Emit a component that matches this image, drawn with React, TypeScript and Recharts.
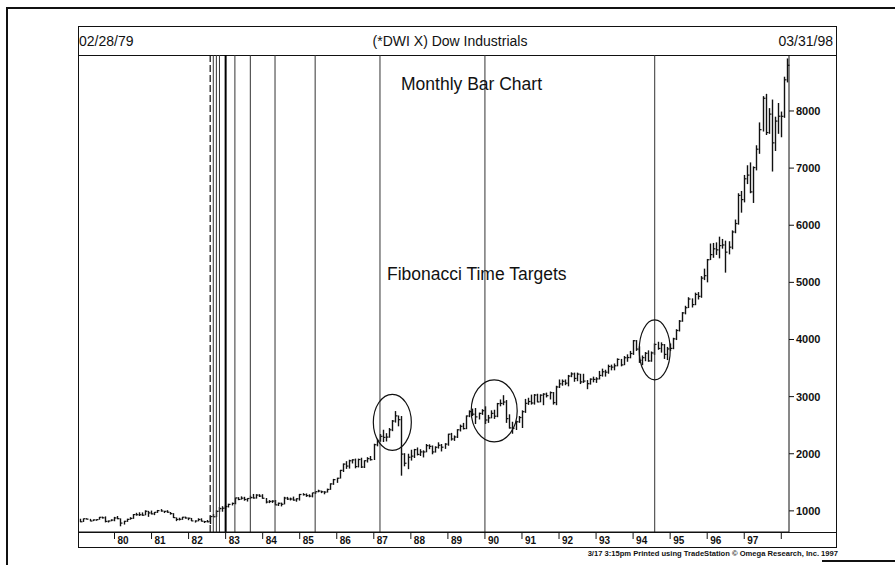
import React from "react";
import {
  ComposedChart,
  Bar,
  XAxis,
  YAxis,
  ReferenceLine,
  ReferenceDot,
} from "recharts";

// monthly DJIA bars, Feb 1979 .. Mar 1998
const firstYear = 1979;
const firstMonth = 2;

const highs = [
  862, 866, 872, 860, 850, 852, 894, 900, 903, 831, 852, // 79
  895, 910, 869, 826, 863, 889, 945, 966, 975, 973, 1010, 1000, // 80
  1005, 980, 1016, 1031, 1000, 1012, 980, 960, 885, 880, 895, 900, // 81
  882, 876, 834, 870, 870, 825, 840, 912, 944, 1012, 1070, 1082, // 82
  1097, 1125, 1145, 1232, 1240, 1254, 1246, 1222, 1266, 1296, 1292, 1292, // 83
  1292, 1225, 1188, 1186, 1190, 1145, 1145, 1246, 1245, 1232, 1250, 1220, // 84
  1297, 1310, 1305, 1290, 1318, 1340, 1370, 1355, 1345, 1390, 1482, 1560, // 85
  1580, 1718, 1830, 1870, 1895, 1905, 1915, 1915, 1930, 1885, 1940, 1960, // 86
  2175, 2260, 2345, 2420, 2360, 2450, 2590, 2747, 2670, 2660, 2010, 2000, // 87
  2070, 2085, 2110, 2080, 2060, 2170, 2165, 2145, 2130, 2200, 2170, 2185, // 88
  2350, 2365, 2320, 2430, 2510, 2540, 2670, 2760, 2790, 2800, 2720, 2780, // 89
  2830, 2680, 2760, 2770, 2890, 2950, 3025, 2940, 2690, 2560, 2580, 2660, // 90
  2760, 2960, 2980, 3035, 3045, 3050, 3040, 3060, 3070, 3090, 3080, 3190, // 91
  3300, 3300, 3300, 3380, 3425, 3420, 3420, 3400, 3400, 3290, 3320, 3350, // 92
  3340, 3450, 3490, 3470, 3560, 3560, 3580, 3670, 3660, 3710, 3740, 3800, // 93
  3990, 3990, 3880, 3720, 3780, 3810, 3790, 3930, 3960, 3950, 3920, 3870, // 94
  3930, 4030, 4180, 4340, 4480, 4590, 4740, 4720, 4820, 4830, 5110, 5240, // 95
  5410, 5680, 5690, 5700, 5800, 5760, 5730, 5720, 5910, 6100, 6560, 6600, // 96
  6880, 7050, 7100, 7030, 7400, 7800, 8260, 8300, 8050, 8200, 7900, 8140, // 97
  7990, 8600, 8920, // 98
];

const lows = [
  802, 806, 850, 818, 820, 826, 845, 866, 798, 796, 818,
  818, 854, 730, 760, 807, 845, 860, 916, 910, 913, 922, 895,
  938, 925, 964, 986, 962, 966, 935, 875, 820, 832, 843, 864,
  837, 820, 795, 817, 814, 788, 800, 770, 891, 891, 980, 985,
  1030, 1059, 1095, 1115, 1187, 1196, 1178, 1163, 1208, 1214, 1214, 1243,
  1212, 1131, 1135, 1139, 1098, 1086, 1078, 1113, 1191, 1182, 1178, 1160,
  1180, 1268, 1245, 1238, 1236, 1294, 1325, 1310, 1290, 1320, 1368, 1455,
  1490, 1565, 1680, 1735, 1740, 1830, 1745, 1760, 1750, 1750, 1846, 1880,
  1890, 2130, 2210, 2205, 2215, 2280, 2395, 2545, 2480, 1616, 1780, 1730,
  1880, 1925, 1970, 1960, 1935, 2025, 2080, 1990, 2020, 2090, 2040, 2085,
  2140, 2230, 2225, 2275, 2390, 2425, 2430, 2640, 2660, 2520, 2600, 2680,
  2520, 2540, 2620, 2610, 2640, 2830, 2850, 2540, 2440, 2350, 2415, 2540,
  2450, 2715, 2855, 2860, 2860, 2900, 2900, 2850, 2985, 2950, 2860, 2850,
  3150, 3190, 3200, 3180, 3340, 3260, 3270, 3220, 3240, 3130, 3210, 3250,
  3240, 3300, 3350, 3350, 3400, 3460, 3460, 3530, 3530, 3550, 3610, 3670,
  3730, 3800, 3590, 3550, 3620, 3610, 3610, 3730, 3820, 3770, 3660, 3640,
  3800, 3830, 3990, 4140, 4310, 4440, 4550, 4560, 4600, 4700, 4730, 5040,
  5000, 5390, 5430, 5480, 5420, 5590, 5170, 5490, 5580, 5860, 6010, 6220,
  6400, 6720, 6560, 6390, 6960, 7250, 7640, 7580, 7600, 6940, 7300, 7600,
  7540, 7880, 8500,
];

const closes = [
  808.8, 862.2, 854.9, 822.3, 842.0, 846.4, 887.6, 878.6, 815.7, 822.4, 838.7,
  875.9, 863.1, 785.8, 817.1, 850.9, 867.9, 935.3, 932.6, 932.4, 924.5, 993.3, 964.0,
  947.3, 974.6, 1003.9, 997.8, 991.8, 976.9, 952.3, 881.5, 850.0, 852.6, 889.0, 875.0,
  871.1, 824.4, 822.8, 848.4, 819.5, 811.9, 808.6, 901.3, 896.3, 991.7, 1039.3, 1046.5,
  1075.7, 1112.6, 1130.0, 1226.2, 1200.0, 1222.0, 1199.2, 1216.2, 1233.1, 1225.2, 1276.0, 1258.6,
  1220.6, 1154.6, 1164.9, 1170.8, 1104.9, 1132.4, 1115.3, 1224.4, 1206.7, 1207.4, 1188.9, 1211.6,
  1286.8, 1284.0, 1266.8, 1258.1, 1315.4, 1335.5, 1347.5, 1334.0, 1328.6, 1374.3, 1472.1, 1546.7,
  1571.0, 1709.1, 1818.6, 1784.0, 1876.7, 1892.7, 1775.3, 1898.3, 1767.6, 1877.8, 1914.2, 1896.0,
  2158.0, 2224.0, 2304.7, 2286.4, 2291.6, 2418.5, 2572.1, 2663.0, 2596.3, 1993.5, 1833.6, 1938.8,
  1958.2, 2071.6, 1988.1, 2032.3, 2031.1, 2141.7, 2128.7, 2031.7, 2112.9, 2148.7, 2114.5, 2168.6,
  2342.3, 2258.4, 2293.6, 2418.8, 2480.2, 2440.1, 2660.7, 2737.3, 2692.8, 2645.1, 2706.3, 2753.2,
  2590.5, 2627.3, 2707.2, 2656.8, 2876.7, 2880.7, 2905.2, 2614.4, 2452.5, 2442.3, 2559.7, 2633.7,
  2736.4, 2882.2, 2913.9, 2887.9, 3027.5, 2906.8, 3024.8, 3043.6, 3016.8, 3069.1, 2894.7, 3168.8,
  3223.4, 3267.7, 3235.5, 3359.1, 3396.9, 3318.5, 3393.8, 3257.4, 3271.7, 3226.3, 3305.2, 3301.1,
  3310.0, 3370.8, 3435.1, 3427.6, 3527.4, 3516.1, 3539.5, 3651.3, 3555.1, 3680.6, 3684.0, 3754.1,
  3978.4, 3832.0, 3636.0, 3681.7, 3758.4, 3625.0, 3764.5, 3913.4, 3843.2, 3908.1, 3739.2, 3834.4,
  3843.9, 4011.1, 4157.7, 4321.3, 4465.1, 4556.1, 4708.5, 4610.6, 4789.1, 4755.5, 5074.5, 5117.1,
  5395.3, 5485.6, 5587.1, 5569.1, 5643.2, 5654.6, 5528.9, 5616.2, 5882.2, 6029.4, 6521.7, 6448.3,
  6813.1, 6877.7, 6583.5, 7009.0, 7331.0, 7672.8, 8222.6, 7622.4, 7945.3, 7442.1, 7823.1, 7908.3,
  7906.5, 8545.7, 8799.8,
];

const priceTicks = [1000, 2000, 3000, 4000, 5000, 6000, 7000, 8000];

// Fibonacci count from the Aug 1982 low: 0,1,2,3,5,8,13,21,34,55,89,144 months
const fibStart = "1982-08";
const fibTargets = [
  "1982-09", "1982-10", "1982-11", "1983-01", "1983-04", "1983-09",
  "1984-05", "1985-06", "1987-03", "1990-01", "1994-08",
];
const heavyTarget = "1983-01";

const circleMonths = ["1987-07", "1990-04", "1994-08"];
const circleValues = [2550, 2750, 3818];

const FONT = '"Liberation Sans", Arial, Helvetica, sans-serif';
const INK = "#111";

const monthKey = (i: number) => {
  const m = firstMonth - 1 + i;
  const y = firstYear + Math.floor(m / 12);
  return `${y}-${String((m % 12) + 1).padStart(2, "0")}`;
};

const data = highs.map((h, i) => ({
  month: monthKey(i),
  high: h,
  low: lows[i],
  close: closes[i],
  range: [lows[i], h],
}));

const OhlcBar = (props: any) => {
  const { x, y, width, height, payload } = props;
  if (x == null || y == null) return null;
  const top = Math.min(y, y + height);
  const h = Math.abs(height);
  const cx = Math.round(x + width / 2) + 0.5;
  const span = payload.high - payload.low || 1;
  const yc = top + (h * (payload.high - payload.close)) / span;
  return (
    <g>
      <line x1={cx} x2={cx} y1={top} y2={top + h} stroke={INK} strokeWidth={1.4} />
      <line x1={cx} x2={cx + 2} y1={yc} y2={yc} stroke={INK} strokeWidth={1.2} />
    </g>
  );
};

const YearTick = (props: any) => {
  const { x, y, payload } = props;
  const key: string = payload.value;
  if (!key.endsWith("-01")) return <g />;
  const yy = key.slice(2, 4);
  return (
    <g>
      <line x1={x} x2={x} y1={y} y2={y + 7} stroke={INK} />
      {yy !== "98" && (
        <text x={x + 3} y={y + 12} fontSize={10} fontFamily={FONT} fill={INK} fontWeight="bold">
          {yy}
        </text>
      )}
    </g>
  );
};

const circleSizes = [
  { rx: 19, ry: 28 },
  { rx: 23, ry: 31 },
  { rx: 15.5, ry: 30 },
];

const abs = (style: React.CSSProperties): React.CSSProperties => ({
  position: "absolute",
  ...style,
});

export default function App() {
  return (
    <div
      style={{
        position: "fixed",
        left: 0,
        top: 0,
        width: 895,
        height: 565,
        background: "#fff",
        overflow: "hidden",
        fontFamily: FONT,
        color: INK,
      }}
    >
      {/* page edge */}
      <div style={abs({ left: 6, top: 8, width: 2, height: 557, background: INK })} />
      <div style={abs({ left: 6, top: 7, width: 889, height: 2, background: INK })} />
      <div style={abs({ left: 822, top: 560, width: 73, height: 2, background: INK })} />

      {/* chart frame */}
      <div
        style={abs({
          left: 78,
          top: 26,
          width: 759,
          height: 522,
          border: `1px solid ${INK}`,
          boxSizing: "border-box",
        })}
      />
      <div style={abs({ left: 78, top: 55, width: 759, height: 1, background: INK })} />
      <div style={abs({ left: 78, top: 532, width: 759, height: 1, background: INK })} />

      <div style={abs({ left: 79, top: 33, fontSize: 14, lineHeight: "16px" })}>02/28/79</div>
      <div style={abs({ left: 300, width: 300, top: 33, fontSize: 14, lineHeight: "16px", textAlign: "center" })}>
        (*DWI X) Dow Industrials
      </div>
      <div style={abs({ right: 895 - 833, top: 33, fontSize: 14, lineHeight: "16px" })}>03/31/98</div>

      <div style={abs({ left: 0, top: 0 })}>
        <ComposedChart
          width={895}
          height={565}
          data={data}
          margin={{ top: 55, right: 59, bottom: 18, left: 79 }}
        >
          <XAxis
            dataKey="month"
            interval={0}
            height={15}
            tickLine={false}
            tickSize={0}
            tickMargin={0}
            axisLine={{ stroke: INK }}
            tick={<YearTick />}
          />
          <YAxis
            orientation="right"
            width={47}
            domain={[630, 8980]}
            ticks={priceTicks}
            allowDataOverflow
            tickSize={5}
            tickMargin={2}
            axisLine={{ stroke: INK }}
            tickLine={{ stroke: INK }}
            tick={{ fontSize: 11, fill: INK, fontFamily: FONT, fontWeight: "bold" }}
          />
          <ReferenceLine x={fibStart} stroke={INK} strokeWidth={1.2} strokeDasharray="7 3" />
          {fibTargets.map((m) => (
            <ReferenceLine
              key={m}
              x={m}
              stroke={m === heavyTarget ? "#000" : "#333"}
              strokeWidth={m === heavyTarget ? 2 : 1}
            />
          ))}
          <Bar dataKey="range" shape={<OhlcBar />} isAnimationActive={false} />
          {circleMonths.map((m, i) => (
            <ReferenceDot
              key={m}
              x={m}
              y={circleValues[i]}
              shape={(p: any) => (
                <ellipse
                  cx={p.cx}
                  cy={p.cy}
                  rx={circleSizes[i].rx}
                  ry={circleSizes[i].ry}
                  fill="none"
                  stroke={INK}
                  strokeWidth={1.2}
                />
              )}
            />
          ))}
        </ComposedChart>
      </div>

      <div style={abs({ left: 401, top: 75, fontSize: 17.5, lineHeight: "18px" })}>Monthly Bar Chart</div>
      <div style={abs({ left: 387, top: 265, fontSize: 17.5, lineHeight: "18px" })}>Fibonacci Time Targets</div>

      <div style={abs({ right: 895 - 838, top: 550, fontSize: 7.6, lineHeight: "8px", fontWeight: "bold", whiteSpace: "nowrap" })}>
        3/17  3:15pm Printed using TradeStation © Omega Research, Inc. 1997
      </div>
    </div>
  );
}
